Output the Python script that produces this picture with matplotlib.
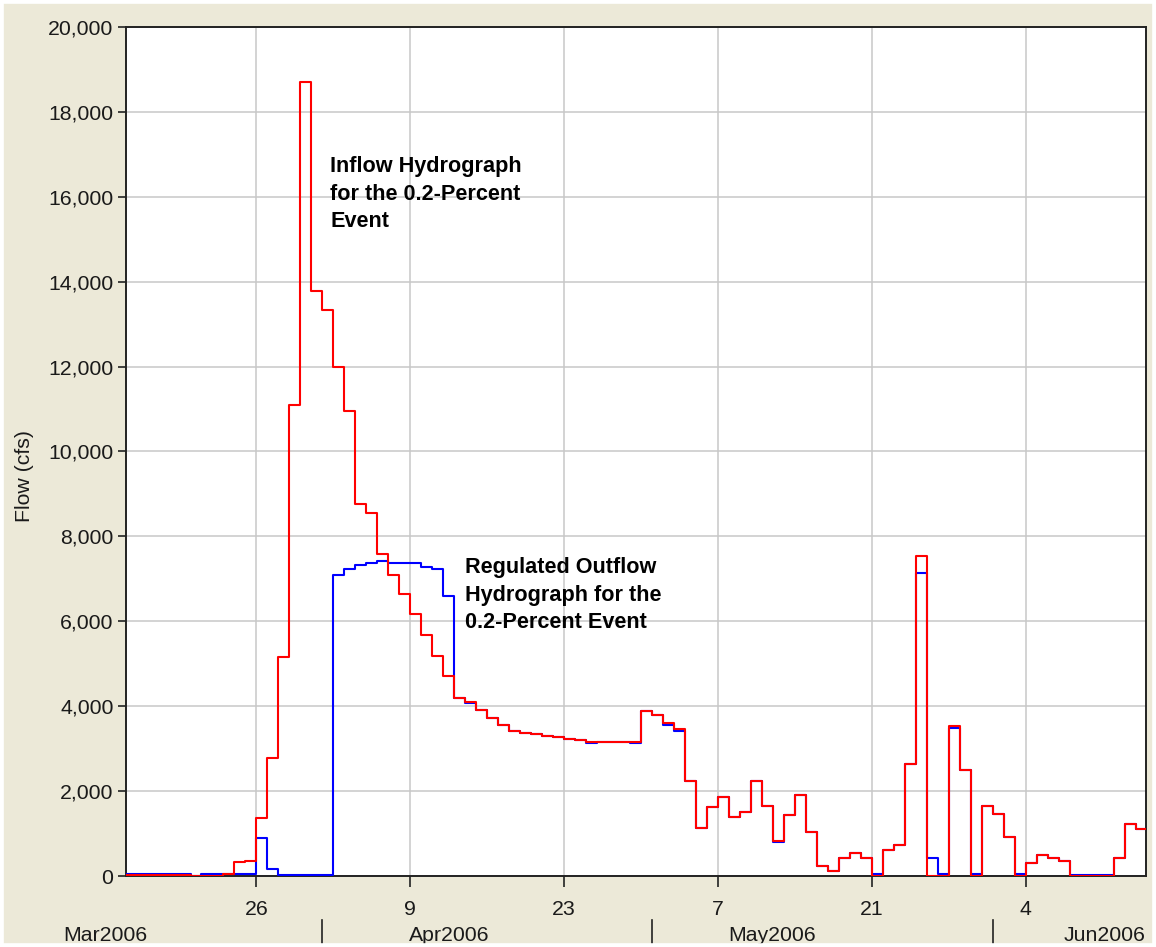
import matplotlib
matplotlib.use('Agg')
import matplotlib.pyplot as plt
import matplotlib.dates as mdates
import matplotlib.transforms as mtransforms
from matplotlib.ticker import FuncFormatter
from matplotlib.patches import Rectangle
import datetime as dt

plt.rcParams['font.family'] = ['Liberation Sans', 'DejaVu Sans']

# ---------------- data (daily values, starting 14 Mar 2006) ----------------
start_date = dt.datetime(2006, 3, 14)

inflow = [15, 15, 15, 15, 15, 15, 0, 0, 0, 40,
          320, 360, 1366, 2780, 5150, 11100, 18700, 13790, 13330, 11980,
          10950, 8770, 8550, 7580, 7090, 6635, 6170, 5670, 5180, 4700,
          4200, 4100, 3910, 3715, 3560, 3415, 3375, 3340, 3300, 3270,
          3235, 3205, 3165, 3150, 3150, 3150, 3150, 3887, 3795, 3600,
          3455, 2238, 1138, 1625, 1853, 1397, 1515, 2238, 1656, 824,
          1437, 1915, 1044, 236, 110, 417, 549, 435, 10, 620,
          730, 2630, 7546, 0, 0, 3534, 2505, 0, 1657, 1460,
          927, 0, 306, 502, 431, 360, 0, 0, 0, 0,
          431, 1232, 1107]

outflow = [40, 40, 40, 40, 40, 40, 0, 40, 40, 40,
           40, 40, 895, 172, 30, 30, 30, 30, 30, 7090,
           7225, 7319, 7381, 7413, 7381, 7380, 7366, 7287, 7225, 6596,
           4186, 4070, 3910, 3715, 3560, 3415, 3375, 3340, 3300, 3270,
           3235, 3205, 3125, 3150, 3150, 3150, 3125, 3887, 3795, 3560,
           3420, 2238, 1138, 1625, 1853, 1397, 1515, 2238, 1656, 790,
           1437, 1915, 1044, 236, 110, 417, 549, 435, 50, 620,
           730, 2630, 7130, 431, 40, 3494, 2505, 40, 1657, 1460,
           927, 40, 306, 502, 431, 360, 30, 30, 30, 30,
           431, 1232, 1107]

tick_dates = [dt.datetime(2006, 3, 26), dt.datetime(2006, 4, 9), dt.datetime(2006, 4, 23),
              dt.datetime(2006, 5, 7), dt.datetime(2006, 5, 21), dt.datetime(2006, 6, 4)]
tick_labels = ['26', '9', '23', '7', '21', '4']

month_starts = [dt.datetime(2006, 4, 1), dt.datetime(2006, 5, 1), dt.datetime(2006, 6, 1)]
month_labels = ['Mar2006', 'Apr2006', 'May2006', 'Jun2006']
month_label_pos = [-0.0206, 0.3167, 0.6333, 0.9598]

y_ticks = list(range(0, 20001, 2000))

label_inflow = 'Inflow Hydrograph\nfor the 0.2-Percent\nEvent'
label_outflow = 'Regulated Outflow\nHydrograph for the\n0.2-Percent Event'

# ---------------- figure ----------------
W, H = 1156, 947
BG = '#ECE9D8'
fig = plt.figure(figsize=(W / 100, H / 100), dpi=100, facecolor=BG)
ax = fig.add_axes([126 / W, 71 / H, 1020 / W, 849 / H])
ax.set_facecolor('white')

dates = [start_date + dt.timedelta(days=i) for i in range(len(inflow) + 1)]
ax.step(dates, outflow + [outflow[-1]], where='post', color='#0000FF', lw=1.5, zorder=3)
ax.step(dates, inflow + [inflow[-1]], where='post', color='#FF0000', lw=1.5, zorder=4)

ax.set_xlim(start_date + dt.timedelta(days=0.13), start_date + dt.timedelta(days=92.95))
ax.set_ylim(0, 20000)

ax.set_xticks(tick_dates)
ax.set_xticklabels(tick_labels)
ax.set_yticks(y_ticks)
ax.yaxis.set_major_formatter(FuncFormatter(lambda v, p: f'{int(v):,}'))

ax.grid(True, color='#C8C8C8', lw=1.1, zorder=0)
ax.set_axisbelow(True)

ax.tick_params(axis='x', direction='out', length=8, width=1.2, pad=9,
               labelsize=15.3, labelcolor='#1a1a1a', color='#222222')
ax.tick_params(axis='y', direction='out', length=6, width=1.2, pad=3,
               labelsize=15.3, labelcolor='#1a1a1a', color='#222222')

for s in ax.spines.values():
    s.set_color('#222222')
    s.set_linewidth(1.4)

# month row
trans = mtransforms.blended_transform_factory(ax.transData, ax.transAxes)
for m in month_starts:
    xn = mdates.date2num(m)
    ax.plot([xn, xn], [-0.052, -0.084], transform=trans, color='#222222',
            lw=1.2, clip_on=False)
for lab, xp in zip(month_labels, month_label_pos):
    ax.text(xp, -0.0695, lab, transform=ax.transAxes, ha='center', va='center',
            fontsize=15.3, color='#1a1a1a')

fig.text(25 / W, 1 - 476 / H, 'Flow (cfs)', rotation=90, ha='center', va='center',
         fontsize=15.3, color='#1a1a1a')

ax.text(start_date + dt.timedelta(days=18.7), 16961, label_inflow, ha='left', va='top',
        fontsize=15.6, fontweight='bold', linespacing=1.42, color='black', zorder=5)
ax.text(start_date + dt.timedelta(days=30.98), 7515, label_outflow, ha='left', va='top',
        fontsize=15.6, fontweight='bold', linespacing=1.42, color='black', zorder=5)

# white frame around the figure
fig.patches.append(Rectangle((0, 0), 1, 1, transform=fig.transFigure, fill=False,
                             edgecolor='white', linewidth=5.5))

fig.savefig('out.png', dpi=100, facecolor=BG)
